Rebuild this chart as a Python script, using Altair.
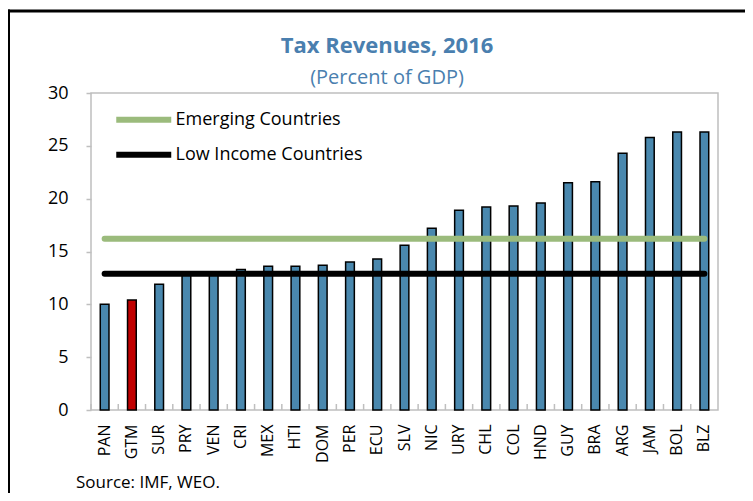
import altair as alt
import pandas as pd

countries = ["PAN", "GTM", "SUR", "PRY", "VEN", "CRI", "MEX", "HTI", "DOM", "PER", "ECU", "SLV",
             "NIC", "URY", "CHL", "COL", "HND", "GUY", "BRA", "ARG", "JAM", "BOL", "BLZ"]
tax_revenue = [10.0, 10.4, 11.9, 12.8, 12.8, 13.3, 13.6, 13.6, 13.7, 14.0, 14.3, 15.6,
               17.2, 18.9, 19.2, 19.3, 19.6, 21.5, 21.6, 24.3, 25.8, 26.3, 26.3]
highlight_country = "GTM"
ref_names = ["Emerging Countries", "Low Income Countries"]
ref_values = [16.2, 12.9]
y_ticks = [0, 5, 10, 15, 20, 25, 30]

BLUE = "#4A88AE"
RED = "#C00000"
GREEN = "#9BBB7C"
TITLE_BLUE = "#4A7FAF"
GREY = "#BFBFBF"
FONT = "Open Sans"

W, H = 627, 317
STEP = W / len(countries)

bars_df = pd.DataFrame({"country": countries, "value": tax_revenue})
lines_df = pd.DataFrame(
    [{"series": n, "country": c, "value": v} for n, v in zip(ref_names, ref_values) for c in countries]
)

x_enc = alt.X(
    "country:N",
    sort=countries,
    scale=alt.Scale(paddingInner=0.68, paddingOuter=0.34),
    axis=alt.Axis(
        title=None, labelAngle=-90, labelFontSize=16, labelFont=FONT, labelColor="black",
        labelPadding=14, ticks=False, domain=False,
    ),
)
y_scale = alt.Scale(domain=[0, 30], nice=False)

bars = alt.Chart(bars_df).mark_bar(stroke="black", strokeWidth=1.5).encode(
    x=x_enc,
    y=alt.Y(
        "value:Q", scale=y_scale,
        axis=alt.Axis(
            title=None, values=y_ticks, grid=False, domain=False, tickColor=GREY, tickSize=5,
            tickWidth=1.5, labelFontSize=18, labelFont=FONT, labelColor="black", labelPadding=18,
        ),
    ),
    fill=alt.condition(alt.datum.country == highlight_country, alt.value(RED), alt.value(BLUE)),
)

xticks = alt.Chart(bars_df).mark_rule(color=GREY, strokeWidth=1.5, xOffset=-STEP / 2).encode(
    x=alt.X("country:N", sort=countries),
    y=alt.value(H),
    y2=alt.value(H - 6),
)

lines = alt.Chart(lines_df).mark_line(strokeWidth=6, strokeCap="round").encode(
    x=alt.X("country:N", sort=countries),
    y=alt.Y("value:Q", scale=y_scale),
    color=alt.Color(
        "series:N",
        scale=alt.Scale(domain=ref_names, range=[GREEN, "black"]),
        legend=alt.Legend(
            orient="none", legendX=35.75, legendY=9.75, title=None, symbolType="M-2,0H2",
            symbolStrokeWidth=6, symbolSize=756, symbolFillColor="transparent",
            labelFontSize=18, labelFont=FONT,
            labelColor="black", labelOffset=14.75, labelLimit=400, rowPadding=6, padding=0,
        ),
    ),
)

one = alt.Data(values=[{}])
title = alt.Chart(one).mark_text(
    text="Tax Revenues, 2016", font=FONT, fontSize=22, fontWeight="bold", color=TITLE_BLUE,
    align="center", baseline="alphabetic",
).encode(x=alt.value(296), y=alt.value(-40))
subtitle = alt.Chart(one).mark_text(
    text="(Percent of GDP)", font=FONT, fontSize=20, color=TITLE_BLUE,
    align="center", baseline="alphabetic",
).encode(x=alt.value(296), y=alt.value(-9))
source = alt.Chart(one).mark_text(
    text="Source: IMF, WEO.", font=FONT, fontSize=17, color="black",
    align="left", baseline="alphabetic",
).encode(x=alt.value(-15), y=alt.value(395))

border_top = alt.Chart(one).mark_rule(color="black", strokeWidth=3).encode(
    x=alt.value(-84), x2=alt.value(660), y=alt.value(-82)
)
border_left = alt.Chart(one).mark_rule(color="black", strokeWidth=3).encode(
    x=alt.value(-82.5), y=alt.value(-83.5), y2=alt.value(410)
)

chart = alt.layer(
    xticks, bars, lines, title, subtitle, source, border_top, border_left
).properties(
    width=W, height=H,
    autosize=alt.AutoSizeParams(type="none"),
    padding={"left": 83, "top": 85, "right": 27, "bottom": 83},
).configure_view(stroke=GREY, strokeWidth=1.5)

chart.save("out.html", embed_options={"renderer": "svg", "actions": False})
